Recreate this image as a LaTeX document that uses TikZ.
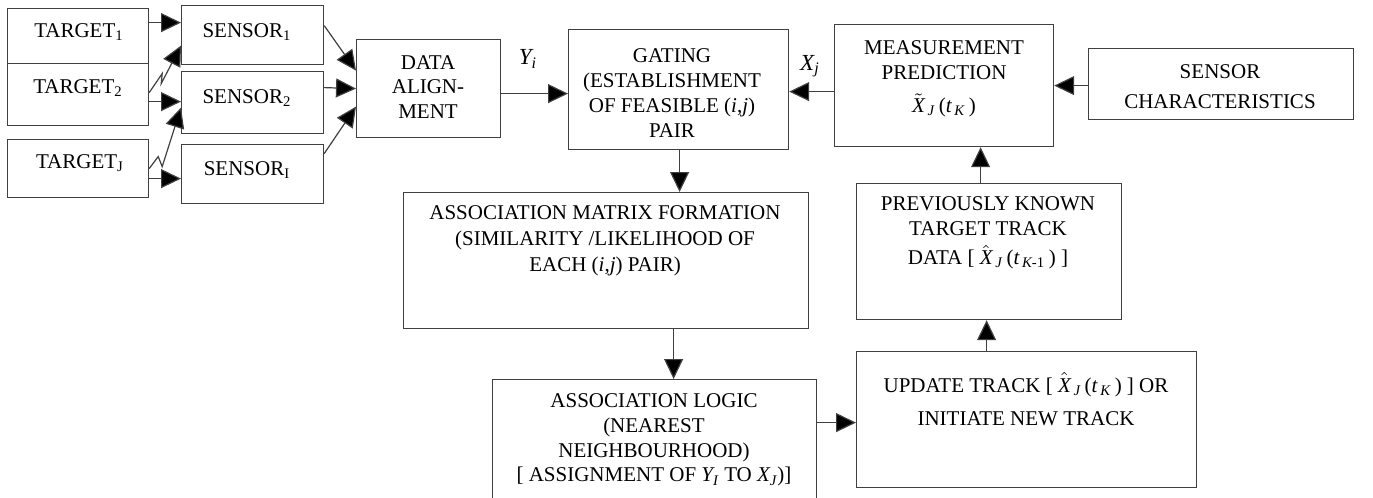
\documentclass[tikz,border=0pt]{standalone}
\usepackage{amsmath}
\usepackage{fontspec}
\setmainfont{Liberation Serif}
\usetikzlibrary{arrows.meta}
\begin{document}
\begin{tikzpicture}[x=0.5pt,y=-0.5pt,
  box/.style={draw=black!75, line width=0.6pt, inner sep=0pt, anchor=north west},
  txt/.style={align=center, inner sep=0pt, font=\fontsize{10.5}{12.4}\selectfont},
  conn/.style={draw=black!75, line width=0.6pt, -{Triangle[length=10pt,width=9.5pt,fill=black]}},
]
\useasboundingbox (0,0) rectangle (1373,498);
% boxes
\node[box, minimum width=70.5pt, minimum height=27.5pt] (t1) at (7,8) {};
\node[box, minimum width=70.5pt, minimum height=31pt] (t2) at (7,63) {};
\node[box, minimum width=70.5pt, minimum height=29pt] (tJ) at (7,139) {};
\node[box, minimum width=71pt, minimum height=29.5pt] (s1) at (181,5) {};
\node[box, minimum width=71pt, minimum height=31pt] (s2) at (181,71) {};
\node[box, minimum width=71pt, minimum height=29.5pt] (sI) at (181,144) {};
\node[box, minimum width=72pt, minimum height=49pt] (da) at (356,39) {};
\node[box, minimum width=110pt, minimum height=60pt] (gate) at (568,29) {};
\node[box, minimum width=109.5pt, minimum height=61pt] (mp) at (834,24) {};
\node[box, minimum width=132.5pt, minimum height=35.5pt] (sc) at (1088,48) {};
\node[box, minimum width=202.5pt, minimum height=68pt] (am) at (403,192) {};
\node[box, minimum width=162pt, minimum height=65pt] (al) at (492,379) {};
\node[box, minimum width=170pt, minimum height=68pt] (up) at (856,351) {};
\node[box, minimum width=132.5pt, minimum height=68pt] (pk) at (856,183) {};
% texts
\node[txt] (t1t) at (79,32) {TARGET\textsubscript{1}};
\node[txt] (t2t) at (78,88) {TARGET\textsubscript{2}};
\node[txt] (tJt) at (80,163) {TARGET\textsubscript{J}};
\node[txt] (s1t) at (247,32) {SENSOR\textsubscript{1}};
\node[txt] (s2t) at (247,98) {SENSOR\textsubscript{2}};
\node[txt] (sIt) at (247,170) {SENSOR\textsubscript{I}};
\node[txt] (dat) at (428,87) {DATA\\ALIGN-\\MENT};
\node[txt] (gatet) at (672,93) {GATING\\(ESTABLISHMENT\\OF FEASIBLE (\textit{i},\textit{j})\\PAIR};
\node[txt] (mpt) at (944,79) {MEASUREMENT\\PREDICTION\\[4pt]$\tilde{\textit{X}}_{\,\textit{J}}\,\textup{(}\textit{t}_{\,\textit{K}}\,\textup{)}$};
\node[txt] (sct) at (1220,87) {SENSOR\\[2.6pt]CHARACTERISTICS};
\node[txt] (amt) at (605,241) {ASSOCIATION MATRIX FORMATION\\[0.6pt](SIMILARITY /LIKELIHOOD OF\\[0.6pt]EACH (\textit{i},\textit{j}) PAIR)};
\node[txt] (alt) at (654,440) {ASSOCIATION LOGIC\\(NEAREST\\NEIGHBOURHOOD)\\{[} ASSIGNMENT OF \textit{Y\textsubscript{I}} TO \textit{X\textsubscript{J}})]};
\node[txt] (pkt) at (988,233) {PREVIOUSLY KNOWN\\TARGET TRACK\\[2pt]DATA [ $\hat{\textit{X}}_{\,\textit{J}}\,\textup{(}\textit{t}_{\,\textit{K}\textup{-1}}\,\textup{)}$ ]};
\node[txt] (upt) at (1026,399) {UPDATE TRACK [ $\hat{\textit{X}}_{\,\textit{J}}\,\textup{(}\textit{t}_{\,\textit{K}}\,\textup{)}$ ] OR\\[4pt]INITIATE NEW TRACK};
\node[txt] (yi) at (528,59) {\fontsize{11.5}{12}\selectfont\textit{Y\textsubscript{i}}};
\node[txt] (xj) at (810,66) {\fontsize{11.5}{12}\selectfont\textit{X\textsubscript{j}}};
% connectors
\draw[conn] ([yshift=6.75pt]t1.east) -- ([yshift=6.75pt]t1.east -| s1.west);
\draw[conn] ([yshift=-3.5pt]t2.east) -- ([yshift=-3.5pt]t2.east -| s2.west);
\draw[conn] ([yshift=-5pt]tJ.east) -- ([yshift=-5pt]tJ.east -| sI.west);
\draw[conn] ([yshift=1pt]t2.east) -- ++(13,-19) -- ++(-1,10) -- ([yshift=-5.25pt]s1.west);
\draw[conn] (tJ.east) -- ++(9,-12) -- ++(4,10) -- ([yshift=-2.5pt]s2.west);
\draw[conn] ([yshift=4.75pt]s1.east) -- ([yshift=9pt]da.west);
\draw[conn] ([yshift=7.5pt]s2.east) -- (da.west);
\draw[conn] ([yshift=10.25pt]sI.east) -- ([yshift=-9pt]da.west);
\draw[conn] ([yshift=-2.5pt]da.east) -- ([yshift=-2.5pt]da.east -| gate.west);
\draw[conn] ([yshift=-3pt]mp.west) -- ([yshift=-3pt]mp.west -| gate.east);
\draw[conn] ([yshift=-0.75pt]sc.west) -- ([yshift=-0.75pt]sc.west -| mp.east);
\draw[conn] ([xshift=0.5pt]gate.south) -- ([xshift=0.5pt]gate.south |- am.north);
\draw[conn] ([xshift=33.75pt]am.south) -- ([xshift=33.75pt]am.south |- al.north);
\draw[conn] ([yshift=11pt]al.east) -- ([yshift=11pt]al.east -| up.west);
\draw[conn] ([xshift=-20pt]up.north) -- ([xshift=-20pt]up.north |- pk.south);
\draw[conn] ([xshift=-4.25pt]pk.north) -- ([xshift=-4.25pt]pk.north |- mp.south);
\end{tikzpicture}
\end{document}
